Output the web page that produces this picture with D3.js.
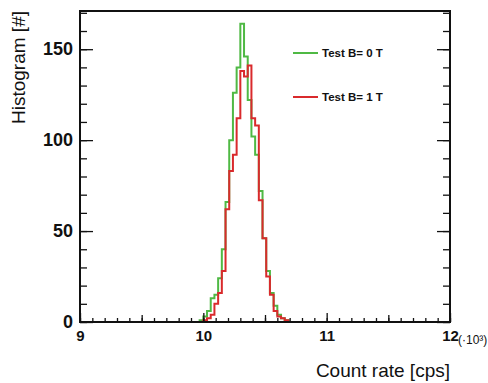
<!DOCTYPE html>
<html>
<head>
<meta charset="utf-8">
<script src="https://cdn.jsdelivr.net/npm/d3@7/dist/d3.min.js"></script>
<style>
  body { margin: 0; background: #fff; }
  svg { display: block; font-family: "Liberation Sans", Arial, sans-serif; }
  .tick text { font-weight: bold; fill: #111; }
</style>
</head>
<body>
<div id="chart"></div>
<script>
// ========= Data =========
const binWidth = 0.03;
const binLow = [9.94, 9.97, 10.00, 10.03, 10.06, 10.09, 10.12, 10.15, 10.18, 10.21,
                10.24, 10.27, 10.30, 10.33, 10.36, 10.39, 10.42, 10.45, 10.48, 10.51,
                10.54, 10.57, 10.60, 10.63, 10.66, 10.69];
const countsB0 = [0, 1, 3, 6, 13, 15, 24, 40, 66, 100,
                  126, 140, 164, 146, 122, 102, 92, 72, 46, 28,
                  16, 9, 4, 2, 1, 0];
const countsB1 = [0, 0, 1, 2, 4, 10, 16, 28, 62, 83,
                  92, 112, 138, 135, 141, 112, 108, 67, 46, 25,
                  15, 6, 3, 2, 1, 0];
const xTickValues = [9, 10, 11, 12];
const yTickValues = [0, 50, 100, 150];
const legendLabels = ['Test B= 0 T', 'Test B= 1 T'];
const seriesColors = ['#4fb944', '#d92a2c'];

// ========= Layout =========
const W = 488, H = 383;
const margin = {top: 11, right: 38, bottom: 61, left: 80};
const w = W - margin.left - margin.right;
const h = H - margin.top - margin.bottom;

const svg = d3.select('#chart').append('svg')
  .attr('width', W)
  .attr('height', H);

const g = svg.append('g')
  .attr('transform', `translate(${margin.left},${margin.top})`);

const x = d3.scaleLinear().domain([9, 12]).range([0, w]);
const y = d3.scaleLinear().domain([0, 171]).range([h, 0]);

// ========= Histograms =========
function histPoints(counts){
  var pts = [{x: 9, y: 0}];
  binLow.forEach((b, i) => pts.push({x: b, y: counts[i]}));
  pts.push({x: binLow[binLow.length - 1] + binWidth, y: 0});
  pts.push({x: 12, y: 0});
  return pts;
}

const line = d3.line()
  .x(d => x(d.x))
  .y(d => y(d.y))
  .curve(d3.curveStepAfter);

[countsB0, countsB1].forEach((c, i) => {
  g.append('path')
    .attr('d', line(histPoints(c)))
    .attr('fill', 'none')
    .attr('stroke', seriesColors[i])
    .attr('stroke-width', 2);
});

// ========= Axes =========
// minor ticks
g.append('g')
  .call(d3.axisLeft(y).tickValues(d3.range(0, 171, 10)).tickSize(-7).tickFormat(''))
  .call(a => a.select('.domain').remove());
g.append('g')
  .attr('transform', `translate(${w},0)`)
  .call(d3.axisRight(y).tickValues(d3.range(0, 171, 10)).tickSize(-7).tickFormat(''))
  .call(a => a.select('.domain').remove());
g.append('g')
  .attr('transform', `translate(0,${h})`)
  .call(d3.axisBottom(x).tickValues(d3.range(9, 12.001, 0.1)).tickSize(-4).tickFormat(''))
  .call(a => a.select('.domain').remove());
g.append('g')
  .attr('transform', `translate(0,${h})`)
  .call(d3.axisBottom(x).tickValues(d3.range(9.5, 12, 1)).tickSize(-7).tickFormat(''))
  .call(a => a.select('.domain').remove());

// major ticks + labels
g.append('g')
  .call(d3.axisLeft(y).tickValues(yTickValues).tickSize(-13).tickPadding(7))
  .call(a => a.select('.domain').remove())
  .call(a => a.selectAll('text').attr('font-size', 18));
g.append('g')
  .attr('transform', `translate(${w},0)`)
  .call(d3.axisRight(y).tickValues(yTickValues).tickSize(-13).tickFormat(''))
  .call(a => a.select('.domain').remove());
g.append('g')
  .attr('transform', `translate(0,${h})`)
  .call(d3.axisBottom(x).tickValues(xTickValues).tickSize(-9).tickPadding(8).tickFormat(d3.format('d')))
  .call(a => a.select('.domain').remove())
  .call(a => a.selectAll('text').attr('font-size', 15));

g.selectAll('.tick line').attr('stroke', '#111').attr('stroke-width', 1.3);

g.append('text')
  .attr('x', x(12) + 8)
  .attr('y', h + 22)
  .attr('font-size', 12)
  .attr('fill', '#111')
  .text('(·10³)');

// frame
g.append('rect')
  .attr('width', w)
  .attr('height', h)
  .attr('fill', 'none')
  .attr('stroke', '#111')
  .attr('stroke-width', 2);

// ========= Titles =========
svg.append('text')
  .attr('transform', `translate(25,${margin.top}) rotate(-90)`)
  .attr('text-anchor', 'end')
  .attr('font-size', 19)
  .attr('fill', '#111')
  .text('Histogram [#]');

svg.append('text')
  .attr('x', margin.left + w)
  .attr('y', H - 6)
  .attr('text-anchor', 'end')
  .attr('font-size', 19)
  .attr('fill', '#111')
  .text('Count rate [cps]');

// ========= Legend =========
const legend = g.append('g')
  .attr('transform', `translate(${293 - margin.left},${53 - margin.top})`);

legendLabels.forEach((lab, i) => {
  const row = legend.append('g').attr('transform', `translate(0,${i * 44})`);
  row.append('line')
    .attr('x1', 0).attr('x2', 25)
    .attr('stroke', seriesColors[i])
    .attr('stroke-width', 2);
  row.append('text')
    .attr('x', 29)
    .attr('dy', '0.35em')
    .attr('font-size', 11.5)
    .attr('font-weight', 'bold')
    .attr('fill', '#111')
    .text(lab);
});
</script>
</body>
</html>
